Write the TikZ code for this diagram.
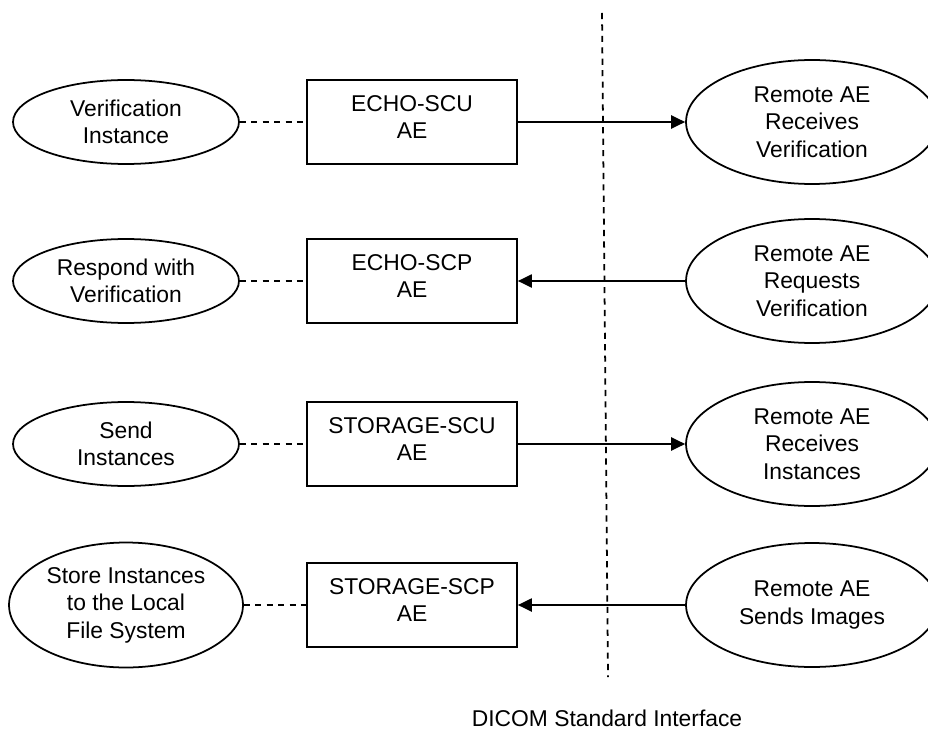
\documentclass[tikz,border=0pt]{standalone}
\usepackage{fontspec}
\setmainfont{Liberation Sans}
\usetikzlibrary{shapes.geometric,arrows.meta}

\begin{document}
\begin{tikzpicture}[x=0.02cm, y=-0.02cm, line width=1pt,
    every node/.style={font=\fontsize{13}{15.6}\selectfont, align=center},
    localop/.style={ellipse, draw, inner sep=0pt, minimum width=4.52cm, minimum height=1.68cm},
    remoteop/.style={ellipse, draw, inner sep=0pt, minimum width=5.04cm, minimum height=2.48cm},
    aebox/.style={rectangle, draw, minimum width=4.2cm, minimum height=1.68cm},
    assoc/.style={dash pattern=on 3.5pt off 3pt},
    flow/.style={-{Triangle[length=8pt, width=7.5pt]}}]
  \useasboundingbox (0,0) rectangle (928,729);

  % local activities
  \node[localop] (verif) at (126,122) {Verification\\Instance};
  \node[localop] (respond) at (126,281) {Respond with\\Verification};
  \node[localop] (send) at (126,444) {Send\\Instances};
  \node[localop, minimum width=4.68cm, minimum height=2.5cm] (store) at (126,605) {Store Instances\\to the Local\\File System};

  % application entities
  \node[aebox, label={[name=echoscutxt, yshift=0.1cm]center:{ECHO-SCU\\AE}}] (echoscu) at (412,122) {};
  \node[aebox, label={[name=echoscptxt, yshift=0.1cm]center:{ECHO-SCP\\AE}}] (echoscp) at (412,281) {};
  \node[aebox, label={[name=storescutxt, yshift=0.1cm]center:{STORAGE-SCU\\AE}}] (storescu) at (412,444) {};
  \node[aebox, label={[name=storescptxt, yshift=0.1cm]center:{STORAGE-SCP\\AE}}] (storescp) at (412,605) {};

  % remote activities
  \node[remoteop] (rverif) at (812,122) {Remote AE\\Receives\\Verification};
  \node[remoteop] (rreq) at (812,281) {Remote AE\\Requests\\Verification};
  \node[remoteop] (rinst) at (812,444) {Remote AE\\Receives\\Instances};
  \node[remoteop] (rimages) at (812,605) {Remote AE\\Sends Images};

  % interface
  \coordinate (itop) at (602,13);
  \coordinate (ibot) at (608,677);
  \draw[assoc] (itop) -- (ibot);
  \node (iface) at (607,718) {DICOM Standard Interface};

  \foreach \a/\b in {verif/echoscu, respond/echoscp, send/storescu, store/storescp}
    \draw[assoc] (\a) -- (\b);
  \foreach \a/\b in {echoscu/rverif, rreq/echoscp, storescu/rinst, rimages/storescp}
    \draw[flow] (\a) -- (\b);
\end{tikzpicture}
\end{document}
